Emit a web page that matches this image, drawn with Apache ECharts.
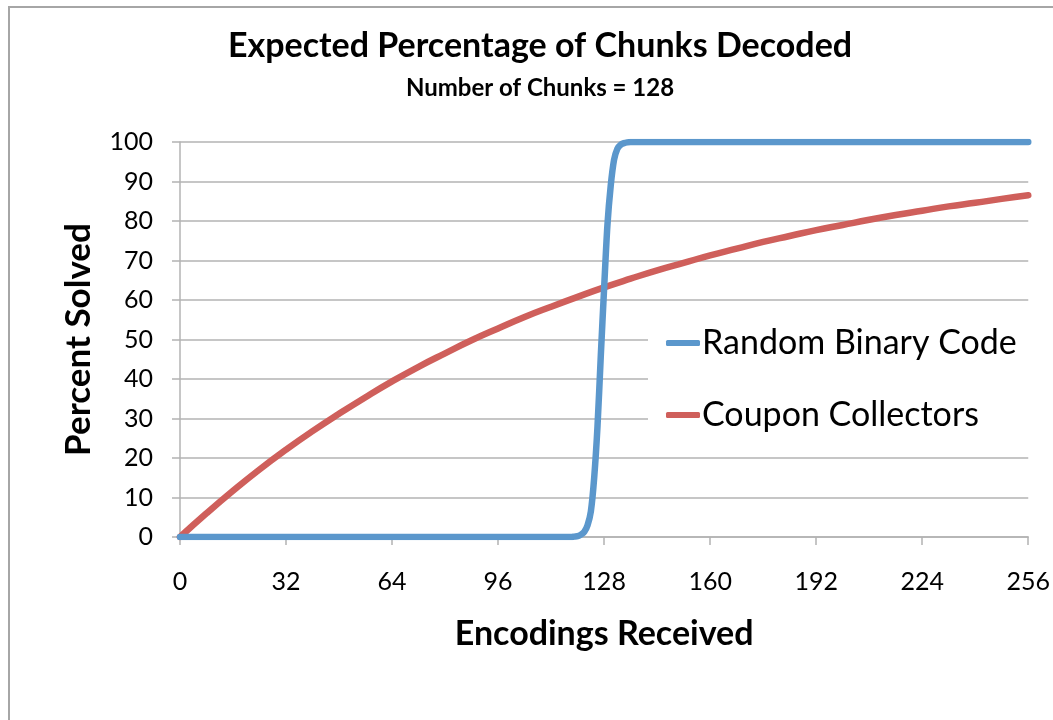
<!DOCTYPE html>
<html>
<head>
<meta charset="utf-8">
<style>
  html, body { margin: 0; padding: 0; background: #fff; }
  #chart { width: 1053px; height: 720px; }
</style>
<script src="https://cdn.jsdelivr.net/npm/echarts@6/dist/echarts.min.js"></script>
</head>
<body>
<div id="chart"></div>
<script>
// Encodings received (x) and percent of chunks decoded (y), 128 chunks
const rbcEncodings = [0, 32, 64, 96, 112, 116, 118, 119, 120, 121, 122, 123, 124, 125, 126, 127, 128, 129, 130, 131, 132, 133, 134, 135, 136, 160, 192, 224, 256];
const rbcPercent   = [0, 0, 0, 0, 0, 0, 0, 0.1, 0.2, 0.6, 1.3, 3, 6.5, 15, 28, 46, 63, 79, 89, 95.5, 98.3, 99.3, 99.7, 99.9, 100, 100, 100, 100, 100];

const ccEncodings = [0, 8, 16, 24, 32, 40, 48, 56, 64, 72, 80, 88, 96, 104, 112, 120, 128, 136, 144, 152, 160, 168, 176, 184, 192, 200, 208, 216, 224, 232, 240, 248, 256];
const ccPercent   = [0, 6.0, 11.7, 17.1, 22.1, 26.8, 31.2, 35.4, 39.4, 43.1, 46.5, 49.8, 52.8, 55.7, 58.3, 60.8, 63.2, 65.4, 67.5, 69.4, 71.3, 73.0, 74.7, 76.2, 77.7, 79.0, 80.3, 81.5, 82.6, 83.7, 84.6, 85.6, 86.5];

const seriesNames = ['Random Binary Code', 'Coupon Collectors'];

const FONT = 'Lato, "Open Sans", sans-serif';
const GRID_GREY = '#b3b3b3';

const pairs = (xs, ys) => xs.map((x, i) => [x, ys[i]]);

const chart = echarts.init(document.getElementById('chart'));
chart.setOption({
  backgroundColor: '#fff',
  animation: false,
  graphic: [{
    type: 'rect',
    shape: { x: 9, y: 7, width: 1200, height: 900 },
    style: { fill: 'none', stroke: '#a6a6a6', lineWidth: 2 },
    silent: true,
    z: -1
  }],
  title: [{
    text: 'Expected Percentage of Chunks Decoded',
    left: 535, top: 24, textAlign: 'center',
    textStyle: { fontFamily: FONT, fontWeight: 'bold', fontSize: 34, color: '#000' }
  }, {
    text: 'Number of Chunks = 128',
    left: 535, top: 71, textAlign: 'center',
    textStyle: { fontFamily: FONT, fontWeight: 'bold', fontSize: 24, color: '#000' }
  }],
  grid: { left: 180, right: 21, top: 142, bottom: 183, containLabel: false },
  legend: {
    orient: 'vertical',
    left: 648, top: 318,
    padding: [8, 40, 8, 18],
    backgroundColor: '#fff',
    itemGap: 38,
    itemWidth: 34, itemHeight: 6,
    icon: 'roundRect',
    data: seriesNames,
    textStyle: { fontFamily: FONT, fontSize: 34, color: '#000', padding: [0, 0, 0, -3] }
  },
  xAxis: {
    type: 'value', min: 0, max: 256, interval: 32,
    name: 'Encodings Received', nameLocation: 'middle', nameGap: 80,
    nameTextStyle: { fontFamily: FONT, fontWeight: 'bold', fontSize: 34, color: '#000' },
    axisLine: { show: true, onZero: false, lineStyle: { color: GRID_GREY, width: 1.5 } },
    axisTick: { show: true, length: 8, lineStyle: { color: GRID_GREY, width: 1.5 } },
    axisLabel: { margin: 32, fontFamily: FONT, fontSize: 25, color: '#000' },
    splitLine: { show: false }
  },
  yAxis: {
    type: 'value', min: 0, max: 100, interval: 10,
    name: 'Percent Solved', nameLocation: 'middle', nameRotate: 90, nameGap: 84,
    nameTextStyle: { fontFamily: FONT, fontWeight: 'bold', fontSize: 35, color: '#000' },
    axisLine: { show: true, lineStyle: { color: GRID_GREY, width: 1.5 } },
    axisTick: { show: true, length: 8, lineStyle: { color: GRID_GREY, width: 1.5 } },
    axisLabel: { margin: 27, fontFamily: FONT, fontSize: 25, color: '#000' },
    splitLine: { show: true, lineStyle: { color: GRID_GREY, width: 1.5 } }
  },
  series: [{
    name: seriesNames[0],
    type: 'line',
    data: pairs(rbcEncodings, rbcPercent),
    showSymbol: false, symbol: 'none',
    smooth: 0.3,
    color: '#5b97cc',
    lineStyle: { width: 6.5, color: '#5b97cc', cap: 'round', join: 'round' },
    z: 3
  }, {
    name: seriesNames[1],
    type: 'line',
    data: pairs(ccEncodings, ccPercent),
    showSymbol: false, symbol: 'none',
    smooth: true,
    color: '#cf5f5b',
    lineStyle: { width: 6.5, color: '#cf5f5b', cap: 'round', join: 'round' },
    z: 2
  }]
});
</script>
</body>
</html>
